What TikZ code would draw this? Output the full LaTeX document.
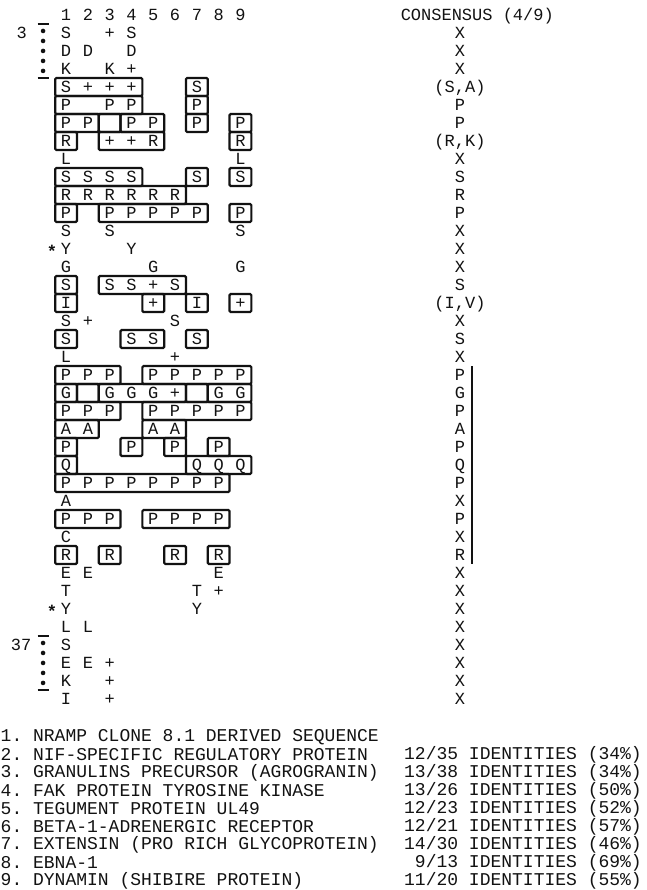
\documentclass[tikz,border=0pt]{standalone}
\usepackage{fontspec}
\usepackage{tikz}
\usetikzlibrary{calc}
\newfontfamily\seqfont{Liberation Mono}
\definecolor{scanInk}{RGB}{18,18,18}
\newcommand{\SeqRow}[2]{\foreach \col/\res in {#2} {\node[res] (r#1c\col) at ({4.06+2*\col},{#1+0.833}) {\res};}}
\newcommand{\IdBox}[3]{\draw[idbox] ({3.06+2*#1},{#3+0.333}) rectangle ({5.06+2*#2},{#3+1.333});}
\newcommand{\RangeMark}[1]{%
  \draw[scanInk,line width=1.2pt] (3.45,{#1+0.333}) -- (4.45,{#1+0.333});
  \draw[scanInk,line width=1.2pt] (3.45,{#1+3.333}) -- (4.45,{#1+3.333});
  \foreach \k in {0,...,4} {\fill[scanInk] (3.95,{#1+0.72+0.555*\k}) circle (2.3pt);}}
\frenchspacing

\begin{document}
\begin{tikzpicture}[x=10.9pt,y=-18pt,
  res/.style={font=\seqfont\fontsize{17}{17}\selectfont,text=scanInk,inner sep=0pt,text height=11pt,text depth=0pt},
  legend/.style={font=\seqfont\fontsize{18}{18}\selectfont,text=scanInk,inner sep=0pt,anchor=west},
  idbox/.style={draw=scanInk,line width=2.2pt,rounded corners=1.2pt}]
\useasboundingbox (0,0) rectangle (59.266,49.444);

\foreach \a/\b/\r in {1/4/4,7/7/4,1/4/5,7/7/5,1/2/6,3/3/6,4/5/6,7/7/6,9/9/6,1/1/7,3/5/7,9/9/7,
  1/4/9,7/7/9,9/9/9,1/6/10,1/1/11,3/7/11,9/9/11,1/1/15,3/6/15,1/1/16,5/5/16,7/7/16,9/9/16,
  1/1/18,4/5/18,7/7/18,1/3/20,5/9/20,1/1/21,2/2/21,3/6/21,7/7/21,8/9/21,1/3/22,5/9/22,
  1/2/23,5/6/23,1/1/24,4/4/24,6/6/24,8/8/24,1/1/25,7/9/25,1/8/26,1/3/28,5/8/28,
  1/1/30,3/3/30,6/6/30,8/8/30} {\IdBox{\a}{\b}{\r}}

\SeqRow{0}{1/1,2/2,3/3,4/4,5/5,6/6,7/7,8/8,9/9}
\SeqRow{1}{1/S,3/+,4/S}
\SeqRow{2}{1/D,2/D,4/D}
\SeqRow{3}{1/K,3/K,4/+}
\SeqRow{4}{1/S,2/+,3/+,4/+,7/S}
\SeqRow{5}{1/P,3/P,4/P,7/P}
\SeqRow{6}{1/P,2/P,4/P,5/P,7/P,9/P}
\SeqRow{7}{1/R,3/+,4/+,5/R,9/R}
\SeqRow{8}{1/L,9/L}
\SeqRow{9}{1/S,2/S,3/S,4/S,7/S,9/S}
\SeqRow{10}{1/R,2/R,3/R,4/R,5/R,6/R}
\SeqRow{11}{1/P,3/P,4/P,5/P,6/P,7/P,9/P}
\SeqRow{12}{1/S,3/S,9/S}
\SeqRow{13}{1/Y,4/Y}
\SeqRow{14}{1/G,5/G,9/G}
\SeqRow{15}{1/S,3/S,4/S,5/+,6/S}
\SeqRow{16}{1/I,5/+,7/I,9/+}
\SeqRow{17}{1/S,2/+,6/S}
\SeqRow{18}{1/S,4/S,5/S,7/S}
\SeqRow{19}{1/L,6/+}
\SeqRow{20}{1/P,2/P,3/P,5/P,6/P,7/P,8/P,9/P}
\SeqRow{21}{1/G,3/G,4/G,5/G,6/+,8/G,9/G}
\SeqRow{22}{1/P,2/P,3/P,5/P,6/P,7/P,8/P,9/P}
\SeqRow{23}{1/A,2/A,5/A,6/A}
\SeqRow{24}{1/P,4/P,6/P,8/P}
\SeqRow{25}{1/Q,7/Q,8/Q,9/Q}
\SeqRow{26}{1/P,2/P,3/P,4/P,5/P,6/P,7/P,8/P}
\SeqRow{27}{1/A}
\SeqRow{28}{1/P,2/P,3/P,5/P,6/P,7/P,8/P}
\SeqRow{29}{1/C}
\SeqRow{30}{1/R,3/R,6/R,8/R}
\SeqRow{31}{1/E,2/E,8/E}
\SeqRow{32}{1/T,7/T,8/+}
\SeqRow{33}{1/Y,7/Y}
\SeqRow{34}{1/L,2/L}
\SeqRow{35}{1/S}
\SeqRow{36}{1/E,2/E,3/+}
\SeqRow{37}{1/K,3/+}
\SeqRow{38}{1/I,3/+}

\node[res] (lbl3) at (2.0,1.833) {3};
\node[res] (lbl37) at (1.93,35.833) {37};
\RangeMark{1}
\RangeMark{35}
\node[res,yshift=-3pt] (star13) at (4.77,13.833) {\bfseries *};
\node[res,yshift=-3pt] (star33) at (4.77,33.833) {\bfseries *};

\node[res,anchor=west] (consTitle) at (36.75,0.833) {CONSENSUS (4/9)};
\foreach \r/\res in {1/X,2/X,3/X,4/{(S,A)},5/P,6/P,7/{(R,K)},8/X,9/S,10/R,11/P,12/X,13/X,
  14/X,15/S,16/{(I,V)},17/X,18/S,19/X,20/P,21/G,22/P,23/A,24/P,25/Q,26/P,27/X,28/P,29/X,30/R,
  31/X,32/X,33/X,34/X,35/X,36/X,37/X,38/X} {\node[res] (k\r) at (42.2,{\r+0.833}) {\res};}
\draw[scanInk,line width=1.8pt] ([xshift=12pt,yshift=9pt]k20.center) -- ([xshift=12pt,yshift=-9pt]k30.center);

\foreach \i/\name in {1/NRAMP CLONE 8.1 DERIVED SEQUENCE,2/NIF-SPECIFIC REGULATORY PROTEIN,
  3/GRANULINS PRECURSOR (AGROGRANIN),4/FAK PROTEIN TYROSINE KINASE,5/TEGUMENT PROTEIN UL49,
  6/BETA-1-ADRENERGIC RECEPTOR,7/EXTENSIN (PRO RICH GLYCOPROTEIN),8/EBNA-1,
  9/DYNAMIN (SHIBIRE PROTEIN)} {\node[legend] (d\i) at (0.05,{39.94+\i}) {\i. \name};}
\foreach \i/\n/\m/\p in {2/12/35/34,3/13/38/34,4/13/26/50,5/12/23/52,6/12/21/57,7/14/30/46,
  8/9/13/69,9/11/20/55} {\node[legend,anchor=east] (id\i) at (58.9,{39.94+\i}) {\n/\m\ IDENTITIES (\p\%)};}
\end{tikzpicture}
\end{document}
